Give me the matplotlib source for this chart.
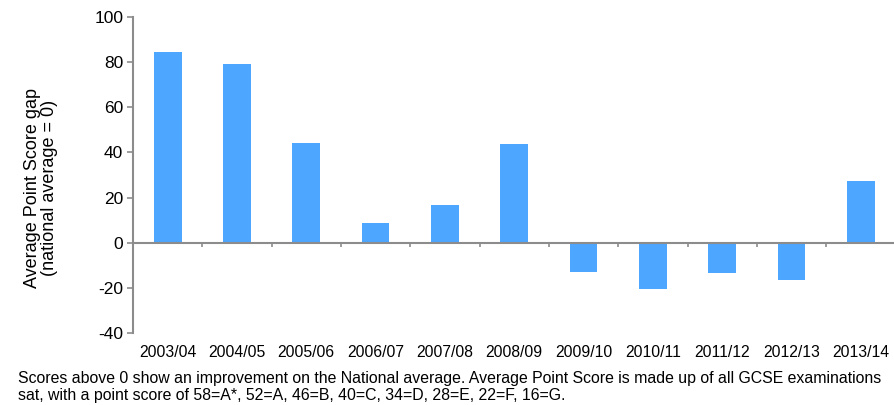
import matplotlib.pyplot as plt
import numpy as np

# Average point score gap per academic year (national average = 0)
years = ['2003/04', '2004/05', '2005/06', '2006/07', '2007/08', '2008/09',
         '2009/10', '2010/11', '2011/12', '2012/13', '2013/14']
gap = [84.6, 79.0, 44.0, 8.5, 16.5, 43.5, -13.0, -20.7, -13.5, -16.7, 27.2]

note = ("Scores above 0 show an improvement on the National average. Average Point Score is made up of all GCSE examinations\n"
        "sat, with a point score of 58=A*, 52=A, 46=B, 40=C, 34=D, 28=E, 22=F, 16=G.")

plt.rcParams['font.family'] = ['Liberation Sans', 'DejaVu Sans']
plt.rcParams['axes.unicode_minus'] = False
axis_grey = '#8c8c8c'

fig = plt.figure(figsize=(8.95, 4.05), dpi=100)
ax = fig.add_axes([0.1486, 0.178, 0.852, 0.780])

x = np.arange(len(years))
ax.bar(x, gap, width=0.4, color='#4da6ff', zorder=2)

ax.set_xlim(-0.5, len(years) - 0.5)
ax.set_ylim(-40, 100)
ax.set_yticks(range(-40, 101, 20))
ax.tick_params(axis='y', labelsize=12.5, length=4, width=1.2, color=axis_grey, pad=3)

for s in ['top', 'right']:
    ax.spines[s].set_visible(False)
ax.spines['left'].set_color(axis_grey)
ax.spines['left'].set_linewidth(1.5)
ax.spines['bottom'].set_position(('data', 0))
ax.spines['bottom'].set_color(axis_grey)
ax.spines['bottom'].set_linewidth(1.5)
ax.spines['bottom'].set_zorder(3)

# category boundary ticks on the zero line
ax.set_xticks(np.arange(len(years) + 1) - 0.5)
ax.set_xticklabels([])
ax.tick_params(axis='x', length=3, width=1.2, color=axis_grey)

# category labels along the bottom of the plot area
sec = ax.secondary_xaxis('bottom')
sec.set_xticks(x)
sec.set_xticklabels(years, fontsize=11.3)
sec.tick_params(length=0, pad=9)
sec.spines['bottom'].set_visible(False)

ax.set_ylabel('Average Point Score gap\n(national average = 0)', fontsize=13, linespacing=1.05)
ax.yaxis.set_label_coords(-0.098, 0.46)

fig.text(18 / 895, 1 - 371 / 405, note, fontsize=11.4, va='top', ha='left', linespacing=1.2)

fig.savefig('out.png', dpi=100)
